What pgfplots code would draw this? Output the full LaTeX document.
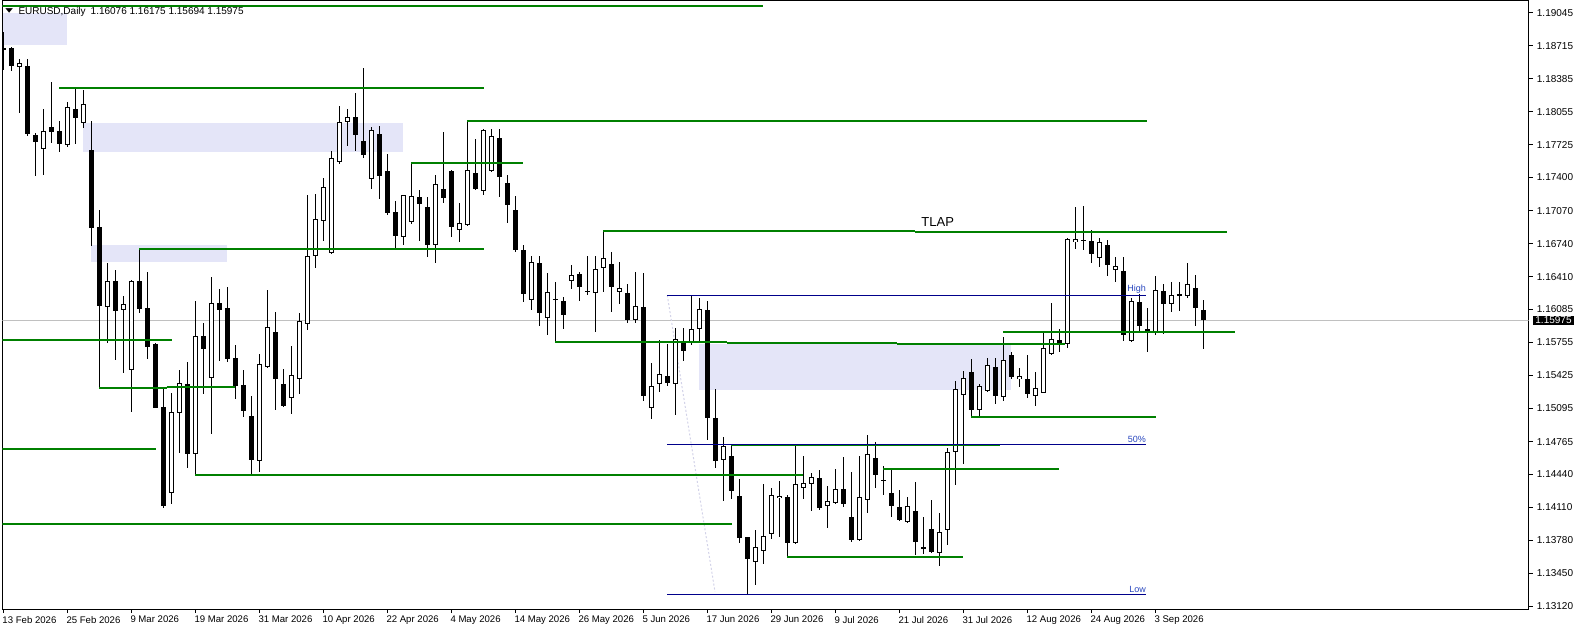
\documentclass[border=0pt]{standalone}
\usepackage{fontspec}
\setmainfont{Liberation Sans}
\newfontfamily\dejavu{DejaVu Sans}
\usepackage{pgfplots}
\usepackage{pgfplotstable}
\pgfplotsset{compat=1.18}
\definecolor{mtgreen}{RGB}{0,128,0}
\definecolor{mtbox}{RGB}{228,229,248}
\definecolor{mtblue}{RGB}{0,0,139}
\definecolor{mttext}{RGB}{40,70,190}
\definecolor{mtgray}{RGB}{192,192,192}
\definecolor{mtdash}{RGB}{210,210,232}

\pgfplotstableread{
x o h l c
0 1.18673 1.18853 1.18473 1.18693
1 1.18690 1.18703 1.18466 1.18513
2 1.18500 1.18580 1.18047 1.18546
3 1.18513 1.18583 1.17815 1.17835
4 1.17825 1.17845 1.17418 1.17758
5 1.17682 1.18084 1.17428 1.17862
6 1.17904 1.18357 1.17748 1.17858
7 1.17865 1.17964 1.17658 1.17738
8 1.17725 1.18154 1.17708 1.18101
9 1.18084 1.18297 1.17738 1.17997
10 1.17941 1.18274 1.17892 1.18131
11 1.17675 1.17964 1.16720 1.16900
12 1.16904 1.17076 1.15303 1.16115
13 1.16105 1.16544 1.15746 1.16368
14 1.16368 1.16474 1.15579 1.16071
15 1.16075 1.16218 1.15452 1.16135
16 1.15476 1.16378 1.15063 1.16368
17 1.16368 1.16684 1.16045 1.16091
18 1.16095 1.16454 1.15589 1.15712
19 1.15739 1.15749 1.15097 1.15103
20 1.15110 1.15297 1.14105 1.14122
21 1.14255 1.15253 1.14139 1.15057
22 1.15047 1.15479 1.14654 1.15347
23 1.15340 1.15562 1.14498 1.14644
24 1.14638 1.16168 1.14431 1.15816
25 1.15819 1.15951 1.15240 1.15692
26 1.15403 1.16408 1.14844 1.16145
27 1.16145 1.16288 1.15572 1.16081
28 1.16095 1.16308 1.15556 1.15592
29 1.15596 1.15729 1.15193 1.15323
30 1.15327 1.15479 1.15013 1.15067
31 1.15020 1.15220 1.14431 1.14584
32 1.14568 1.15639 1.14464 1.15536
33 1.15512 1.16278 1.15496 1.15906
34 1.15859 1.16058 1.15083 1.15387
35 1.15337 1.15489 1.15113 1.15123
36 1.15197 1.15719 1.15043 1.15427
37 1.15387 1.16048 1.15243 1.15965
38 1.15935 1.17226 1.15882 1.16614
39 1.16614 1.17236 1.16500 1.16983
40 1.16963 1.17396 1.16767 1.17303
41 1.16650 1.17662 1.16640 1.17592
42 1.17552 1.18114 1.17532 1.17951
43 1.17951 1.18084 1.17718 1.18001
44 1.18001 1.18244 1.17668 1.17822
45 1.17762 1.18493 1.17598 1.17628
46 1.17383 1.17902 1.17289 1.17872
47 1.17832 1.17915 1.17189 1.17418
48 1.17462 1.17635 1.17029 1.17049
49 1.17053 1.17166 1.16684 1.16820
50 1.16804 1.17226 1.16730 1.17223
51 1.16953 1.17548 1.16937 1.17216
52 1.17203 1.17273 1.16770 1.17139
53 1.17106 1.17206 1.16610 1.16730
54 1.16730 1.17423 1.16550 1.17333
55 1.17283 1.17852 1.17149 1.17199
56 1.17465 1.17475 1.16810 1.16910
57 1.16874 1.17143 1.16760 1.16944
58 1.16924 1.17967 1.16917 1.17472
59 1.17443 1.17785 1.17276 1.17289
60 1.17263 1.17882 1.17229 1.17872
61 1.17468 1.17882 1.17455 1.17812
62 1.17792 1.17882 1.17209 1.17403
63 1.17343 1.17423 1.16950 1.17129
64 1.17073 1.17216 1.16660 1.16680
65 1.16674 1.16724 1.16161 1.16235
66 1.16175 1.16617 1.16078 1.16557
67 1.16547 1.16617 1.15922 1.16051
68 1.15995 1.16448 1.15826 1.16255
69 1.16185 1.16358 1.15759 1.16185
70 1.16165 1.16208 1.15886 1.16025
71 1.16365 1.16527 1.16291 1.16431
72 1.16435 1.16454 1.16165 1.16311
73 1.16268 1.16614 1.16225 1.16268
74 1.16245 1.16614 1.15862 1.16484
75 1.16494 1.16867 1.16255 1.16594
76 1.16537 1.16654 1.16061 1.16311
77 1.16255 1.16554 1.16135 1.16301
78 1.16245 1.16335 1.15946 1.15981
79 1.15975 1.16454 1.15946 1.16115
80 1.16108 1.16448 1.15173 1.15223
81 1.15097 1.15549 1.14993 1.15320
82 1.15343 1.15779 1.15263 1.15437
83 1.15420 1.15739 1.15323 1.15353
84 1.15343 1.15896 1.15027 1.15786
85 1.15746 1.15896 1.15572 1.15672
86 1.15746 1.16225 1.15726 1.15886
87 1.15886 1.16195 1.15746 1.16085
88 1.16078 1.16168 1.14778 1.15003
89 1.14997 1.15290 1.14504 1.14574
90 1.14578 1.14811 1.14175 1.14718
91 1.14618 1.14734 1.14189 1.14275
92 1.14222 1.14392 1.13756 1.13806
93 1.13813 1.13813 1.13241 1.13590
94 1.13560 1.13883 1.13331 1.13710
95 1.13670 1.14339 1.13540 1.13823
96 1.13846 1.14302 1.13793 1.14229
97 1.14199 1.14369 1.13816 1.14222
98 1.14212 1.14229 1.13620 1.13756
99 1.13750 1.14738 1.13745 1.14339
100 1.14299 1.14621 1.14195 1.14349
101 1.14339 1.14449 1.14075 1.14409
102 1.14399 1.14481 1.14079 1.14105
103 1.14119 1.14322 1.13906 1.14169
104 1.14155 1.14491 1.14145 1.14289
105 1.14289 1.14611 1.14109 1.14139
106 1.14009 1.14461 1.13766 1.13783
107 1.13780 1.14621 1.13775 1.14209
108 1.14179 1.14831 1.14055 1.14638
109 1.14601 1.14761 1.14305 1.14435
110 1.14385 1.14521 1.14235 1.14379
111 1.14252 1.14494 1.14015 1.14125
112 1.14109 1.14282 1.13975 1.13985
113 1.13959 1.14212 1.13955 1.14119
114 1.14072 1.14362 1.13636 1.13766
115 1.13710 1.14012 1.13646 1.13700
116 1.13890 1.14182 1.13656 1.13666
117 1.13650 1.14052 1.13526 1.13863
118 1.13880 1.14698 1.13733 1.14658
119 1.14658 1.15367 1.14335 1.15287
120 1.15227 1.15466 1.14544 1.15397
121 1.15456 1.15586 1.15010 1.15083
122 1.15077 1.15337 1.15017 1.15317
123 1.15267 1.15596 1.15262 1.15526
124 1.15506 1.15596 1.15143 1.15223
125 1.15207 1.15806 1.15173 1.15576
126 1.15626 1.15656 1.15393 1.15413
127 1.15393 1.15496 1.15313 1.15417
128 1.15390 1.15629 1.15197 1.15243
129 1.15217 1.15459 1.15117 1.15297
130 1.15253 1.15856 1.15248 1.15696
131 1.15636 1.16148 1.15626 1.15786
132 1.15776 1.15886 1.15662 1.15739
133 1.15736 1.16794 1.15702 1.16784
134 1.16754 1.17103 1.16690 1.16784
135 1.16770 1.17116 1.16677 1.16777
136 1.16767 1.16877 1.16550 1.16640
137 1.16594 1.16794 1.16510 1.16754
138 1.16727 1.16777 1.16420 1.16530
139 1.16474 1.16607 1.16361 1.16517
140 1.16464 1.16607 1.15772 1.15826
141 1.15766 1.16201 1.15762 1.16168
142 1.16155 1.16241 1.15846 1.15916
143 1.15886 1.16095 1.15662 1.15872
144 1.15862 1.16418 1.15832 1.16275
145 1.16265 1.16338 1.15842 1.16135
146 1.16135 1.16355 1.16055 1.16225
147 1.16235 1.16355 1.16071 1.16225
148 1.16215 1.16544 1.16201 1.16335
149 1.16295 1.16425 1.15922 1.16101
150 1.16076 1.16175 1.15694 1.15975
}\candles

\begin{document}
\begin{tikzpicture}
\begin{axis}[
  at={(2.3pt,21pt)}, anchor=south west,
  scale only axis, width=1526.4pt, height=608.5pt,
  xmin=-0.125, xmax=190.675,
  ymin=1.13094, ymax=1.19167,
  axis line style={black, line width=1pt},
  tick style={black, line width=1pt},
  tick align=outside,
  major tick length=4pt,
  xtick pos=left, ytick pos=right,
  yticklabel pos=right,
  xtick={0,8,...,144},
  xticklabels={13 Feb 2026, 25 Feb 2026, 9 Mar 2026, 19 Mar 2026, 31 Mar 2026, 10 Apr 2026, 22 Apr 2026, 4 May 2026, 14 May 2026, 26 May 2026, 5 Jun 2026, 17 Jun 2026, 29 Jun 2026, 9 Jul 2026, 21 Jul 2026, 31 Jul 2026, 12 Aug 2026, 24 Aug 2026, 3 Sep 2026},
  ytick={1.13120,1.13450,1.13780,1.14110,1.14440,1.14765,1.15095,1.15425,1.15755,1.16085,1.16410,1.16740,1.17070,1.17400,1.17725,1.18055,1.18385,1.18715,1.19045},
  yticklabels={1.13120,1.13450,1.13780,1.14110,1.14440,1.14765,1.15095,1.15425,1.15755,1.16085,1.16410,1.16740,1.17070,1.17400,1.17725,1.18055,1.18385,1.18715,1.19045},
  extra y ticks={1.15975},
  extra y tick labels={1.15975},
  extra y tick style={major tick length=0pt, yticklabel style={fill=black, text=white, inner xsep=2.5pt, inner ysep=1pt, xshift=0pt}},
  ticklabel style={font=\fontsize{10}{12}\selectfont},
  xticklabel style={anchor=north west, inner sep=0pt, xshift=-1pt, yshift=-3pt, font=\fontsize{9.6}{12}\selectfont},
  yticklabel style={anchor=west, inner sep=0pt, xshift=4pt},
  clip=true,
]
% zones (background)
\addplot[fill=mtbox, draw=none, forget plot] coordinates {(-0.08,1.19039) (7.925,1.19039) (7.925,1.18726) (-0.08,1.18726)} -- cycle;
\addplot[fill=mtbox, draw=none, forget plot] coordinates {(9.96,1.17947) (49.93,1.17947) (49.93,1.17658) (9.96,1.17658)} -- cycle;
\addplot[fill=mtbox, draw=none, forget plot] coordinates {(10.96,1.16727) (27.93,1.16727) (27.93,1.16560) (10.96,1.16560)} -- cycle;
\addplot[fill=mtbox, draw=none, forget plot] coordinates {(86.96,1.15739) (125.93,1.15739) (125.93,1.15280) (86.96,1.15280)} -- cycle;
% current price line
\addplot[mtgray, line width=1pt, forget plot] coordinates {(-1,1.15975) (191,1.15975)};
% fibo diagonal
\addplot[mtdash, line width=1pt, dash pattern=on 2pt off 2pt, forget plot] coordinates {(83,1.16225) (88.96,1.13267)};
% wicks
\addplot[forget plot, draw=none, mark=none,
  error bars/.cd, y dir=both, y explicit, error mark=none,
  error bar style={draw=black, line width=1pt}]
  table[x=x, y expr={(\thisrow{h}+\thisrow{l})/2}, y error expr={(\thisrow{h}-\thisrow{l})/2}] {\candles};
% bodies
\addplot[forget plot, draw=none, mark=none,
  error bars/.cd, y dir=both, y explicit, error mark=none,
  error bar style={draw=black, line width=5pt}]
  table[x=x, y expr={(\thisrow{o}+\thisrow{c})/2}, y error expr={max(abs(\thisrow{o}-\thisrow{c})/2,0.00005)}] {\candles};
\addplot[forget plot, draw=none, mark=none,
  error bars/.cd, y dir=both, y explicit, error mark=none,
  error bar style={draw=white, line width=3pt}]
  table[x=x, y expr={(\thisrow{o}+\thisrow{c})/2}, y error expr={max((\thisrow{c}-\thisrow{o})/2-0.0001,0)}] {\candles};
% green levels
\addplot[mtgreen, line width=2pt, forget plot] coordinates {(-0.2,1.19115) (95.0,1.19115)};
\addplot[mtgreen, line width=2pt, forget plot] coordinates {(7,1.18297) (60.1,1.18297)};
\addplot[mtgreen, line width=2pt, forget plot] coordinates {(58,1.17967) (143,1.17967)};
\addplot[mtgreen, line width=2pt, forget plot] coordinates {(51,1.17548) (65,1.17548)};
\addplot[mtgreen, line width=2pt, forget plot] coordinates {(17,1.16684) (60.1,1.16684)};
\addplot[mtgreen, line width=2pt, forget plot] coordinates {(75,1.16862) (114,1.16862)};
\addplot[mtgreen, line width=2pt, forget plot] coordinates {(114,1.16852) (153,1.16852)};
\addplot[mtgreen, line width=2pt, forget plot] coordinates {(-0.2,1.15782) (21.05,1.15782)};
\addplot[mtgreen, line width=2pt, forget plot] coordinates {(69,1.15762) (90.5,1.15762)};
\addplot[mtgreen, line width=2pt, forget plot] coordinates {(90.5,1.15751) (111.7,1.15751)};
\addplot[mtgreen, line width=2pt, forget plot] coordinates {(111.7,1.15739) (132.7,1.15739)};
\addplot[mtgreen, line width=2pt, forget plot] coordinates {(125,1.15862) (154,1.15862)};
\addplot[mtgreen, line width=2pt, forget plot] coordinates {(12,1.15303) (20.4,1.15303)};
\addplot[mtgreen, line width=2pt, forget plot] coordinates {(20.4,1.15313) (29,1.15313)};
\addplot[mtgreen, line width=2pt, forget plot] coordinates {(121,1.15013) (144.05,1.15013)};
\addplot[mtgreen, line width=2pt, forget plot] coordinates {(91,1.14726) (124.6,1.14726)};
\addplot[mtgreen, line width=2pt, forget plot] coordinates {(110,1.14494) (132,1.14494)};
\addplot[mtgreen, line width=2pt, forget plot] coordinates {(-0.2,1.14694) (19.05,1.14694)};
\addplot[mtgreen, line width=2pt, forget plot] coordinates {(24,1.14436) (99.9,1.14436)};
\addplot[mtgreen, line width=2pt, forget plot] coordinates {(-0.2,1.13938) (91.05,1.13938)};
\addplot[mtgreen, line width=2pt, forget plot] coordinates {(98,1.13615) (120,1.13615)};
% fibo levels
\addplot[mtblue, line width=1pt, forget plot] coordinates {(83,1.16226) (142.85,1.16226)};
\addplot[mtblue, line width=1pt, forget plot] coordinates {(83,1.14738) (142.85,1.14738)};
\addplot[mtblue, line width=1pt, forget plot] coordinates {(83,1.13241) (142.85,1.13241)};
% texts
\node[anchor=base east, inner sep=0pt, text=mttext, font=\fontsize{9}{9}\selectfont] at (axis cs:142.85,1.16261) {High};
\node[anchor=base east, inner sep=0pt, text=mttext, font=\fontsize{9}{9}\selectfont] at (axis cs:142.85,1.14752) {50\%};
\node[anchor=base east, inner sep=0pt, text=mttext, font=\fontsize{9}{9}\selectfont] at (axis cs:142.85,1.13257) {Low};
\node[anchor=base, inner sep=0pt, font=\fontsize{13}{13}\selectfont] at (axis cs:116.8,1.16916) {TLAP};
\node[anchor=base west, inner sep=0pt, font=\fontsize{10}{12}\selectfont] at (axis cs:1.875,1.19027) {EURUSD,Daily\hspace{5pt}1.16076 1.16175 1.15694 1.15975};
\node[anchor=base, inner sep=0pt, font=\dejavu\fontsize{10}{10}\selectfont] at (axis cs:0.75,1.19048) {\scalebox{1}[0.6]{▼}};
\end{axis}
\pgfresetboundingbox
\path (0,0) rectangle (1575pt,630pt);
\end{tikzpicture}
\end{document}
